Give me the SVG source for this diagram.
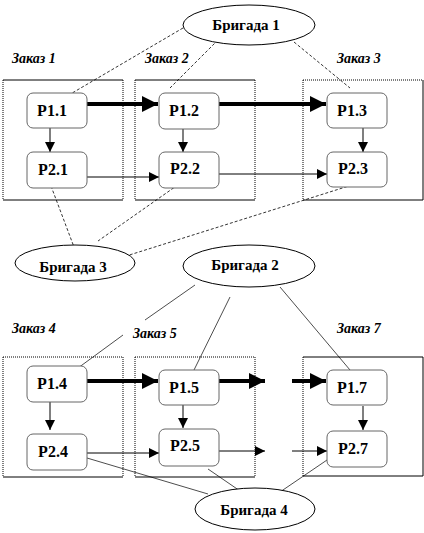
<svg xmlns="http://www.w3.org/2000/svg" width="424" height="533" viewBox="0 0 424 533">
<defs>
<style>
.box{fill:#fff;stroke:none}
.hs{stroke:#000;stroke-width:1}
.vs{stroke:#000;stroke-width:1;stroke-dasharray:1,1}
.node{fill:#fff;stroke:#666;stroke-width:1}
.nt{font-weight:bold;font-size:16px;text-anchor:middle;fill:#000}
.zt{font-weight:bold;font-style:italic;font-size:14px;fill:#000}
.ell{fill:#fff;stroke:#000;stroke-width:1}
.et{font-weight:bold;font-size:15px;text-anchor:middle;fill:#000}
.thick{stroke:#000;stroke-width:4;fill:none}
.thin{stroke:#000;stroke-width:1;fill:none}
.vert{stroke:#555;stroke-width:1.5;fill:none}
.dash{stroke:#000;stroke-width:0.8;fill:none;stroke-dasharray:3,2}
.fine{stroke:#000;stroke-width:0.7;fill:none}
</style>
<marker id="ah" viewBox="0 0 10 10" refX="10" refY="5" markerWidth="10" markerHeight="10" markerUnits="userSpaceOnUse" orient="auto"><path d="M0,0 L10,5 L0,10 z" fill="#000"/></marker>
<marker id="ahb" viewBox="0 0 10 10" refX="10" refY="5" markerWidth="4" markerHeight="4" orient="auto"><path d="M0,0 L10,5 L0,10 z" fill="#000"/></marker>
</defs>

<g id="labels" font-family="Liberation Serif, Times New Roman, serif">
<text class="zt" x="12" y="63">Заказ 1</text>
<text class="zt" x="145" y="63">Заказ 2</text>
<text class="zt" x="337" y="63">Заказ 3</text>
<text class="zt" x="12" y="333">Заказ 4</text>
<text class="zt" x="133" y="338">Заказ 5</text>
<text class="zt" x="337" y="333">Заказ 7</text>
</g>

<g id="order1"><rect class="box" x="3" y="80" width="120" height="120"/><line class="hs" x1="3" y1="80" x2="123" y2="80"/><line class="hs" x1="3" y1="200" x2="123" y2="200"/><line class="vs" x1="3" y1="80" x2="3" y2="200"/><line class="vs" x1="123" y1="80" x2="123" y2="200"/></g>
<g id="order2"><rect class="box" x="135" y="80" width="120" height="120"/><line class="hs" x1="135" y1="80" x2="255" y2="80"/><line class="hs" x1="135" y1="200" x2="255" y2="200"/><line class="vs" x1="135" y1="80" x2="135" y2="200"/><line class="vs" x1="255" y1="80" x2="255" y2="200"/></g>
<g id="order3"><rect class="box" x="303" y="80" width="120" height="120"/><line class="vs" x1="303" y1="80" x2="423" y2="80"/><line class="hs" x1="303" y1="200" x2="423" y2="200"/><line class="vs" x1="303" y1="80" x2="303" y2="200"/><line class="hs" x1="423" y1="80" x2="423" y2="200"/></g>
<g id="order4"><rect class="box" x="3" y="357" width="120" height="120"/><line class="vs" x1="3" y1="357" x2="123" y2="357"/><line class="hs" x1="3" y1="477" x2="123" y2="477"/><line class="vs" x1="3" y1="357" x2="3" y2="477"/><line class="vs" x1="123" y1="357" x2="123" y2="477"/></g>
<g id="order5"><rect class="box" x="135" y="357" width="120" height="120"/><line class="vs" x1="135" y1="357" x2="255" y2="357"/><line class="hs" x1="135" y1="477" x2="255" y2="477"/><line class="vs" x1="135" y1="357" x2="135" y2="477"/><line class="vs" x1="255" y1="357" x2="255" y2="477"/></g>
<g id="order7"><rect class="box" x="303" y="357" width="120" height="120"/><line class="hs" x1="303" y1="357" x2="423" y2="357"/><line class="hs" x1="303" y1="476" x2="423" y2="476"/><line class="vs" x1="303" y1="357" x2="303" y2="476"/><line class="hs" x1="423" y1="357" x2="423" y2="476"/></g>

<g id="connectors">
<line class="thick" x1="87" y1="104" x2="158" y2="104" marker-end="url(#ahb)"/>
<line class="thick" x1="219" y1="104" x2="326" y2="104" marker-end="url(#ahb)"/>
<line class="thin" x1="87" y1="177" x2="159" y2="177" marker-end="url(#ah)"/>
<line class="thin" x1="219" y1="174" x2="327" y2="174" marker-end="url(#ah)"/>
<line class="vert" x1="50" y1="128" x2="50" y2="152" marker-end="url(#ah)"/>
<line class="vert" x1="183" y1="129" x2="183" y2="152" marker-end="url(#ah)"/>
<line class="vert" x1="363" y1="128" x2="363" y2="152" marker-end="url(#ah)"/>

<line class="thick" x1="87" y1="381" x2="158" y2="381" marker-end="url(#ahb)"/>
<line class="thick" x1="219" y1="381" x2="265" y2="381" marker-end="url(#ahb)"/>
<line class="thick" x1="292" y1="381" x2="326" y2="381" marker-end="url(#ahb)"/>
<line class="thin" x1="87" y1="453" x2="159" y2="453" marker-end="url(#ah)"/>
<line class="thin" x1="219" y1="451" x2="265" y2="451" marker-end="url(#ah)"/>
<line class="thin" x1="292" y1="451" x2="327" y2="451" marker-end="url(#ah)"/>
<line class="vert" x1="50" y1="402" x2="50" y2="430" marker-end="url(#ah)"/>
<line class="vert" x1="183" y1="405" x2="183" y2="428" marker-end="url(#ah)"/>
<line class="vert" x1="363" y1="406" x2="363" y2="430" marker-end="url(#ah)"/>

<line class="dash" x1="183" y1="28" x2="62" y2="99"/>
<line class="dash" x1="218" y1="40" x2="170" y2="88"/>
<line class="dash" x1="294" y1="42" x2="350" y2="88"/>
<line class="dash" x1="51" y1="186" x2="74" y2="247"/>
<line class="dash" x1="182" y1="182" x2="98" y2="241"/>
<line class="dash" x1="352" y1="185" x2="123" y2="257"/>

<line class="fine" x1="195" y1="285" x2="145" y2="320"/>
<line class="fine" x1="123" y1="335" x2="78" y2="368"/>
<line class="fine" x1="230" y1="297" x2="194" y2="370"/>
<line class="fine" x1="280" y1="287" x2="350" y2="370"/>
<line class="fine" x1="87" y1="458" x2="208" y2="494"/>
<line class="fine" x1="208" y1="469" x2="243" y2="493"/>
<line class="fine" x1="327" y1="460" x2="280" y2="492"/>
</g>

<g font-family="Liberation Serif, Times New Roman, serif">
<g id="P1.1"><rect class="node" x="27" y="93" width="60" height="35" rx="6"/><text class="nt" x="52" y="116">P1.1</text></g>
<g id="P1.2"><rect class="node" x="159" y="93" width="60" height="36" rx="6"/><text class="nt" x="184" y="116">P1.2</text></g>
<g id="P1.3"><rect class="node" x="327" y="93" width="60" height="35" rx="6"/><text class="nt" x="352" y="116">P1.3</text></g>
<g id="P2.1"><rect class="node" x="27" y="152" width="60" height="36" rx="6"/><text class="nt" x="53" y="175">P2.1</text></g>
<g id="P2.2"><rect class="node" x="159" y="152" width="60" height="36" rx="6"/><text class="nt" x="185" y="174">P2.2</text></g>
<g id="P2.3"><rect class="node" x="327" y="152" width="60" height="35" rx="6"/><text class="nt" x="353" y="174">P2.3</text></g>

<g id="P1.4"><rect class="node" x="27" y="366" width="60" height="36" rx="6"/><text class="nt" x="52" y="389">P1.4</text></g>
<g id="P1.5"><rect class="node" x="159" y="370" width="60" height="35" rx="6"/><text class="nt" x="184" y="393">P1.5</text></g>
<g id="P1.7"><rect class="node" x="327" y="370" width="60" height="35" rx="6"/><text class="nt" x="352" y="393">P1.7</text></g>
<g id="P2.4"><rect class="node" x="27" y="434" width="60" height="36" rx="6"/><text class="nt" x="53" y="457">P2.4</text></g>
<g id="P2.5"><rect class="node" x="159" y="429" width="60" height="37" rx="6"/><text class="nt" x="185" y="451">P2.5</text></g>
<g id="P2.7"><rect class="node" x="327" y="431" width="60" height="36" rx="6"/><text class="nt" x="353" y="454">P2.7</text></g>

<g id="brigade1"><ellipse class="ell" cx="249" cy="25" rx="66" ry="20"/><text class="et" x="246" y="30">Бригада 1</text></g>
<g id="brigade3"><ellipse class="ell" cx="75" cy="263" rx="60" ry="18"/><text class="et" x="73" y="272">Бригада 3</text></g>
<g id="brigade2"><ellipse class="ell" cx="249" cy="266" rx="66" ry="21"/><text class="et" x="245" y="270">Бригада 2</text></g>
<g id="brigade4"><ellipse class="ell" cx="255" cy="509" rx="60" ry="21"/><text class="et" x="254" y="515">Бригада 4</text></g>
</g>
</svg>
